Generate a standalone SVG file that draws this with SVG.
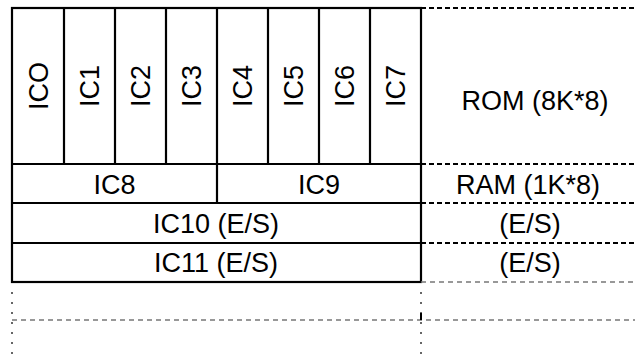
<svg xmlns="http://www.w3.org/2000/svg" width="635" height="358" viewBox="0 0 635 358">
<style>
.solid{stroke:#000;stroke-width:2.2;fill:none}
.dash{stroke:#000;stroke-width:2;stroke-dasharray:5 3;fill:none}
.grey{stroke:#777;stroke-width:1.5;stroke-dasharray:5 4;fill:none}
.dot{stroke:#666;stroke-width:2;stroke-dasharray:2 8;fill:none}
text{font-family:"Liberation Sans",Arial,sans-serif;font-size:27px;fill:#000;text-anchor:middle}
</style>
<rect width="635" height="358" fill="#fff"/>
<g id="connectors">
<rect class="solid" x="12" y="8" width="409" height="274"/>
<path class="solid" d="M64 8V164M115 8V164M166 8V164M217 8V203M268 8V164M319 8V164M370 8V164M12 164H421M12 203H421M12 243H421"/>
<path class="dash" d="M421 8H635M421 164H635M421 203H635M421 243H635"/>
<path class="grey" d="M421 282H635M12 320H635"/>
<path class="dot" d="M12 292V356M421 292V356"/>
<path class="solid" d="M421 313V320" style="stroke-width:2"/>
</g>
<g id="ic0"><text transform="translate(47.7 86) rotate(-90)">ICO</text></g>
<g id="ic1"><text transform="translate(99.2 86) rotate(-90)">IC1</text></g>
<g id="ic2"><text transform="translate(150.2 86) rotate(-90)">IC2</text></g>
<g id="ic3"><text transform="translate(201.2 86) rotate(-90)">IC3</text></g>
<g id="ic4"><text transform="translate(252.2 86) rotate(-90)">IC4</text></g>
<g id="ic5"><text transform="translate(303.2 86) rotate(-90)">IC5</text></g>
<g id="ic6"><text transform="translate(354.2 86) rotate(-90)">IC6</text></g>
<g id="ic7"><text transform="translate(405.2 86) rotate(-90)">IC7</text></g>
<g id="rom"><text x="535" y="110">ROM (8K*8)</text></g>
<g id="ic8"><text x="114.5" y="194">IC8</text></g>
<g id="ic9"><text x="319" y="194">IC9</text></g>
<g id="ram"><text x="528" y="194">RAM (1K*8)</text></g>
<g id="ic10"><text x="216" y="233">IC10 (E/S)</text></g>
<g id="es1"><text x="530" y="233">(E/S)</text></g>
<g id="ic11"><text x="216" y="272">IC11 (E/S)</text></g>
<g id="es2"><text x="530" y="272">(E/S)</text></g>
</svg>
